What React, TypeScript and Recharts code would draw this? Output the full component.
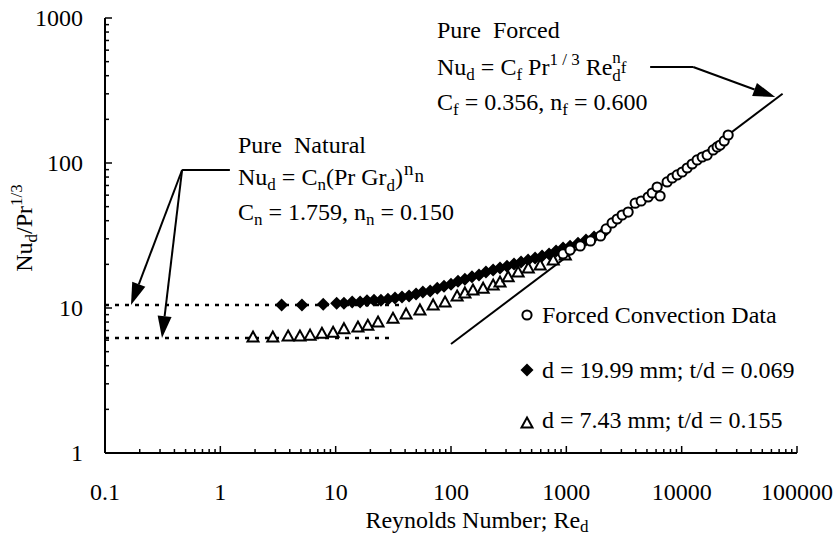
import { ReferenceLine, Scatter, ScatterChart, XAxis, YAxis } from 'recharts';

// decade ticks (minor ticks 2..9 are added between them)
const xMajors = [0.1, 1, 10, 100, 1000, 10000, 100000];
const yMajors = [1, 10, 100, 1000];

// forced convection data (open circles)
const forcedData = [
  { x: 937, y: 23.6 }, { x: 1077, y: 25.1 }, { x: 1320, y: 26.8 }, { x: 1620, y: 29.0 }, { x: 1980, y: 31.4 },
  { x: 2215, y: 35.1 }, { x: 2495, y: 38.6 }, { x: 2760, y: 41.1 }, { x: 3048, y: 43.8 }, { x: 3435, y: 45.9 },
  { x: 3953, y: 52.8 }, { x: 4455, y: 54.7 }, { x: 5120, y: 58.3 }, { x: 5550, y: 62.1 }, { x: 6130, y: 68.3 },
  { x: 6500, y: 59.2 }, { x: 7480, y: 74 }, { x: 8280, y: 78.8 }, { x: 9140, y: 82.7 }, { x: 10100, y: 86.7 },
  { x: 11160, y: 92.4 }, { x: 12330, y: 98.4 }, { x: 13620, y: 105 }, { x: 15070, y: 110 }, { x: 16630, y: 113.5 },
  { x: 18750, y: 123 }, { x: 20300, y: 129 }, { x: 21570, y: 133 }, { x: 23380, y: 142 }, { x: 25300, y: 156 },
];

// d = 19.99 mm (filled diamonds)
const largeCylinder = [
  { x: 3.4, y: 10.5 }, { x: 5.1, y: 10.5 }, { x: 7.8, y: 10.6 }, { x: 10.2, y: 10.8 }, { x: 11.8, y: 10.8 },
  { x: 13.9, y: 11.0 }, { x: 16.3, y: 11.0 }, { x: 18.7, y: 11.2 }, { x: 21.5, y: 11.3 }, { x: 24.7, y: 11.3 },
  { x: 28.4, y: 11.5 }, { x: 32.7, y: 11.7 }, { x: 37.6, y: 11.9 }, { x: 43.3, y: 12.1 }, { x: 49.8, y: 12.5 },
  { x: 57, y: 12.9 }, { x: 66, y: 13.1 }, { x: 76, y: 13.7 }, { x: 87, y: 14.1 }, { x: 100, y: 14.6 },
  { x: 115, y: 15.3 }, { x: 132, y: 15.8 }, { x: 152, y: 16.4 }, { x: 175, y: 16.9 }, { x: 201, y: 17.7 },
  { x: 232, y: 18.3 }, { x: 266, y: 18.9 }, { x: 306, y: 19.4 }, { x: 352, y: 20.1 }, { x: 405, y: 20.8 },
  { x: 466, y: 21.4 }, { x: 536, y: 22.1 }, { x: 616, y: 22.8 }, { x: 708, y: 23.6 }, { x: 815, y: 24.7 },
  { x: 937, y: 25.9 }, { x: 1077, y: 26.7 }, { x: 1262, y: 28.0 }, { x: 1480, y: 29.4 }, { x: 1740, y: 30.9 },
  { x: 2040, y: 32.4 },
];

// d = 7.43 mm (open triangles)
const smallCylinder = [
  { x: 1.92, y: 6.3 }, { x: 2.85, y: 6.3 }, { x: 3.87, y: 6.4 }, { x: 4.9, y: 6.4 }, { x: 6.0, y: 6.5 },
  { x: 7.6, y: 6.7 }, { x: 9.5, y: 6.8 }, { x: 11.8, y: 7.2 }, { x: 15.6, y: 7.4 }, { x: 19.0, y: 7.6 },
  { x: 23.3, y: 8.0 }, { x: 31.4, y: 8.5 }, { x: 40.8, y: 9.1 }, { x: 53.8, y: 9.7 }, { x: 70, y: 10.5 },
  { x: 88.8, y: 11.0 }, { x: 113, y: 12.1 }, { x: 132, y: 12.7 }, { x: 155, y: 13.3 }, { x: 190, y: 13.7 },
  { x: 232, y: 14.4 }, { x: 266, y: 15.1 }, { x: 313, y: 16.4 }, { x: 382, y: 17.7 }, { x: 468, y: 18.9 },
  { x: 593, y: 19.8 }, { x: 770, y: 21.4 }, { x: 980, y: 23.2 },
];

// correlation lines
const pureForcedLine = [{ x: 100, y: 5.64 }, { x: 75000, y: 300 }];
const pureNaturalLarge = [{ x: 0.1, y: 10.5 }, { x: 40, y: 10.5 }];
const pureNaturalSmall = [{ x: 0.1, y: 6.2 }, { x: 30, y: 6.2 }];

// annotation pointers
const naturalPointer = { from: { x: 0.466, y: 89.5 }, to: { x: 1.21, y: 89.5 } };
const naturalArrowTips = [{ x: 0.168, y: 10.5 }, { x: 0.312, y: 6.2 }];
const forcedPointer = { from: { x: 5330, y: 459 }, to: { x: 12590, y: 459 } };
const forcedArrowTip = { x: 64700, y: 285 };

const withMinors = (majors: number[]) =>
  majors.flatMap((m, i) => (i === majors.length - 1 ? [m] : [1, 2, 3, 4, 5, 6, 7, 8, 9].map((k) => m * k)));
const xTicks = withMinors(xMajors);
const yTicks = withMinors(yMajors);

const FONT = '"Liberation Serif", "Times New Roman", serif';

function XTick({ x, y, payload }: any) {
  const major = xMajors.includes(payload.value);
  return (
    <g>
      <line x1={x} x2={x} y1={y} y2={y - (major ? 7 : 4)} stroke="#000" strokeWidth={1.5} />
      {major && (
        <text x={x} y={y + 47} textAnchor="middle" fontFamily={FONT} fontSize={24} fill="#000">
          {String(payload.value)}
        </text>
      )}
    </g>
  );
}

function YTick({ x, y, payload }: any) {
  const major = yMajors.includes(payload.value);
  return (
    <g>
      <line x1={x} x2={x + (major ? 7 : 4)} y1={y} y2={y} stroke="#000" strokeWidth={1.5} />
      {major && (
        <text x={x - 22} y={y + 8} textAnchor="end" fontFamily={FONT} fontSize={24} fill="#000">
          {String(payload.value)}
        </text>
      )}
    </g>
  );
}

const OpenCircle = ({ cx, cy }: any) => <circle cx={cx} cy={cy} r={4.6} fill="#fff" stroke="#000" strokeWidth={2} />;
const Diamond = ({ cx, cy }: any) => (
  <polygon points={`${cx},${cy - 6.5} ${cx + 6.5},${cy} ${cx},${cy + 6.5} ${cx - 6.5},${cy}`} fill="#000" />
);
const Triangle = ({ cx, cy }: any) => (
  <polygon points={`${cx},${cy - 5.5} ${cx + 5.5},${cy + 4.5} ${cx - 5.5},${cy + 4.5}`} fill="#fff" stroke="#000" strokeWidth={2} />
);
const NoDot = () => <g />;

function ArrowShape({ x1, y1, x2, y2 }: any) {
  const a = Math.atan2(y2 - y1, x2 - x1);
  const len = 22;
  const half = 7;
  const bx = x2 - len * Math.cos(a);
  const by = y2 - len * Math.sin(a);
  const px = -Math.sin(a) * half;
  const py = Math.cos(a) * half;
  return (
    <g>
      <line x1={x1} y1={y1} x2={bx} y2={by} stroke="#000" strokeWidth={2} />
      <polygon points={`${x2},${y2} ${bx + px},${by + py} ${bx - px},${by - py}`} fill="#000" />
    </g>
  );
}

const sub = 17;

export default function App() {
  return (
    <div style={{ position: 'absolute', left: 0, top: 0, width: 837, height: 538 }}>
      <ScatterChart width={837} height={538} margin={{ top: 18, right: 40, bottom: 25, left: 15 }}>
        <XAxis
          dataKey="x"
          type="number"
          scale="log"
          domain={[0.1, 100000]}
          allowDataOverflow
          ticks={xTicks}
          interval={0}
          tick={<XTick />}
          tickLine={false}
          tickSize={0}
          tickMargin={0}
          height={60}
          axisLine={{ stroke: '#000', strokeWidth: 2 }}
        />
        <YAxis
          dataKey="y"
          type="number"
          scale="log"
          domain={[1, 1000]}
          allowDataOverflow
          ticks={yTicks}
          interval={0}
          tick={<YTick />}
          tickLine={false}
          tickSize={0}
          tickMargin={0}
          width={90}
          axisLine={{ stroke: '#000', strokeWidth: 2 }}
        />
        <Scatter data={pureNaturalLarge} line={{ stroke: '#000', strokeWidth: 2.5, strokeDasharray: '4 6' }} shape={NoDot} isAnimationActive={false} />
        <Scatter data={pureNaturalSmall} line={{ stroke: '#000', strokeWidth: 2.5, strokeDasharray: '4 6' }} shape={NoDot} isAnimationActive={false} />
        <Scatter data={pureForcedLine} line={{ stroke: '#000', strokeWidth: 2 }} shape={NoDot} isAnimationActive={false} />
        <ReferenceLine segment={[naturalPointer.from, naturalPointer.to]} stroke="#000" strokeWidth={2} />
        {naturalArrowTips.map((tip, i) => (
          <ReferenceLine key={i} segment={[naturalPointer.from, tip]} shape={ArrowShape} />
        ))}
        <ReferenceLine segment={[forcedPointer.from, forcedPointer.to]} stroke="#000" strokeWidth={2} />
        <ReferenceLine segment={[forcedPointer.to, forcedArrowTip]} shape={ArrowShape} />
        <Scatter name="d = 19.99 mm; t/d = 0.069" data={largeCylinder} shape={Diamond} isAnimationActive={false} />
        <Scatter name="d = 7.43 mm; t/d = 0.155" data={smallCylinder} shape={Triangle} isAnimationActive={false} />
        <Scatter name="Forced Convection Data" data={forcedData} shape={OpenCircle} isAnimationActive={false} />
      </ScatterChart>
      <svg width={837} height={538} style={{ position: 'absolute', left: 0, top: 0, pointerEvents: 'none' }} fontFamily={FONT} fill="#000">
        <g fontSize={24}>
          <text x={437} y={38} xmlSpace="preserve">Pure  Forced</text>
          <text x={437} y={75} xmlSpace="preserve">
            Nu<tspan dy={5} fontSize={sub}>d</tspan>
            <tspan dy={-5}> = C</tspan><tspan dy={5} fontSize={sub}>f</tspan>
            <tspan dy={-5}> Pr</tspan><tspan dy={-10} fontSize={sub}>1 / 3</tspan>
            <tspan dy={10}> Re</tspan><tspan dy={6} fontSize={sub}>d</tspan>
            <tspan dx={-8.5} dy={-18} fontSize={sub}>n</tspan><tspan dy={10} fontSize={sub}>f</tspan>
          </text>
          <text x={437} y={110} xmlSpace="preserve">
            C<tspan dy={5} fontSize={sub}>f</tspan><tspan dy={-5}> = 0.356, n</tspan>
            <tspan dy={5} fontSize={sub}>f</tspan><tspan dy={-5}> = 0.600</tspan>
          </text>
          <text x={238} y={153} xmlSpace="preserve">Pure  Natural</text>
          <text x={238} y={185} xmlSpace="preserve">
            Nu<tspan dy={5} fontSize={sub}>d</tspan><tspan dy={-5}> = C</tspan>
            <tspan dy={5} fontSize={sub}>n</tspan><tspan dy={-5}>(Pr Gr</tspan>
            <tspan dy={6} fontSize={sub}>d</tspan><tspan dy={-6}>)</tspan>
            <tspan dx={1} dy={-10} fontSize={19}>n</tspan><tspan dx={1} dy={7} fontSize={19}>n</tspan>
          </text>
          <text x={238} y={220} xmlSpace="preserve">
            C<tspan dy={5} fontSize={sub}>n</tspan><tspan dy={-5}> = 1.759, n</tspan>
            <tspan dy={5} fontSize={sub}>n</tspan><tspan dy={-5}> = 0.150</tspan>
          </text>

          <OpenCircle cx={527} cy={315} />
          <text x={542} y={323}>Forced Convection Data</text>
          <Diamond cx={527} cy={370} />
          <text x={542} y={378}>d = 19.99 mm; t/d = 0.069</text>
          <Triangle cx={527} cy={423} />
          <text x={542} y={428}>d = 7.43 mm; t/d = 0.155</text>

          <text x={477} y={528} textAnchor="middle">
            Reynolds Number; Re<tspan dy={4} fontSize={17}>d</tspan>
          </text>
          <text x={32} y={228} textAnchor="middle" transform="rotate(-90, 32, 228)">
            Nu<tspan dy={5} fontSize={17}>d</tspan><tspan dy={-5}>/Pr</tspan>
            <tspan dy={-10} fontSize={17}>1/3</tspan>
          </text>
        </g>
      </svg>
    </div>
  );
}
